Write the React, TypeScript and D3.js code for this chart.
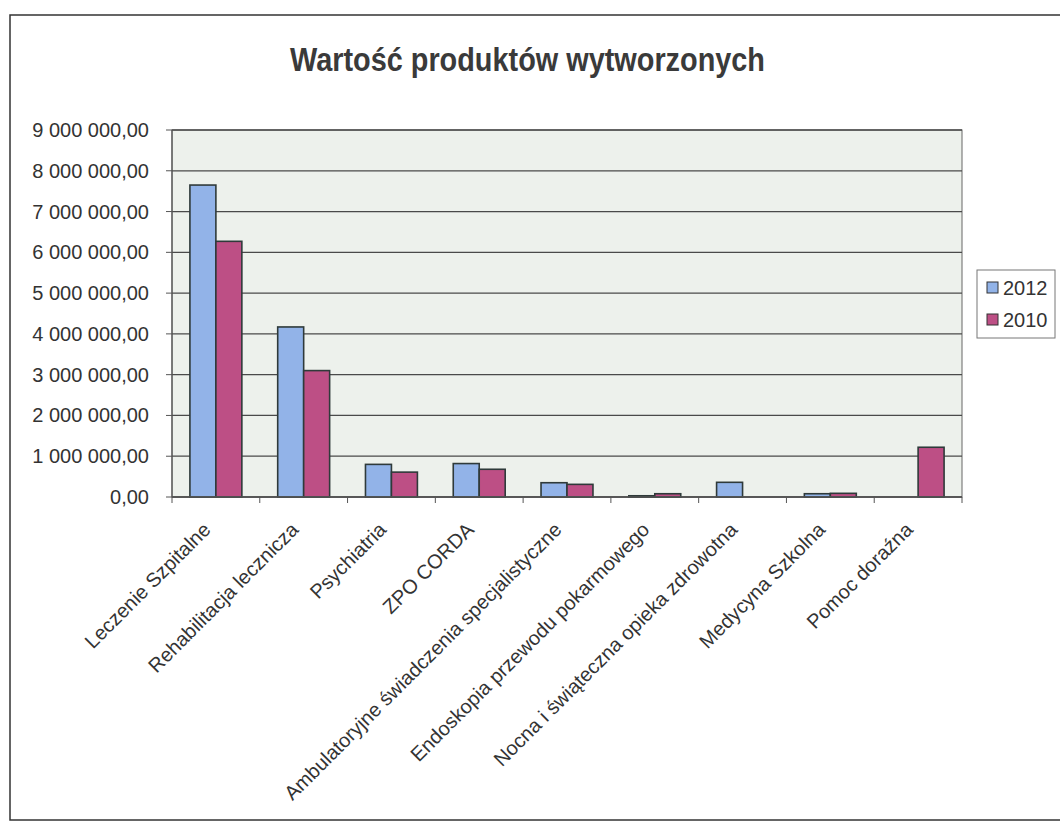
import React from "react";
import * as d3 from "d3";

const categories = [
  "Leczenie Szpitalne",
  "Rehabilitacja lecznicza",
  "Psychiatria",
  "ZPO CORDA",
  "Ambulatoryjne świadczenia specjalistyczne",
  "Endoskopia przewodu pokarmowego",
  "Nocna i świąteczna opieka zdrowotna",
  "Medycyna Szkolna",
  "Pomoc doraźna",
];
const seriesNames = ["2012", "2010"];
const values2012 = [7650000, 4170000, 800000, 820000, 350000, 30000, 360000, 80000, 0];
const values2010 = [6270000, 3100000, 610000, 680000, 310000, 80000, 0, 90000, 1220000];
const yTicks = [0, 1000000, 2000000, 3000000, 4000000, 5000000, 6000000, 7000000, 8000000, 9000000];
const colors = ["#92b3e8", "#bd4f85"];

const W = 1060;
const H = 830;
const plot = { left: 172, right: 962, top: 130, bottom: 497 };

function fmt(v: number): string {
  const s = Math.round(v).toString().replace(/\B(?=(\d{3})+(?!\d))/g, " ");
  return s + ",00";
}

export default function App() {
  const x0 = d3.scaleBand<string>().domain(categories).range([plot.left, plot.right]).padding(0);
  const x1 = d3
    .scaleBand<string>()
    .domain(seriesNames)
    .range([0, x0.bandwidth()])
    .paddingInner(0)
    .paddingOuter(0.69);
  const y = d3.scaleLinear().domain([0, 9000000]).range([plot.bottom, plot.top]);
  const series = [values2012, values2010];
  const font = "'Liberation Sans', Arial, sans-serif";

  return (
    <svg
      width={W}
      height={H}
      style={{ position: "absolute", left: 0, top: 0, background: "#fff" }}
      fontFamily={font}
    >
      <rect x={0} y={0} width={W} height={H} fill="#ffffff" />
      {/* outer frame */}
      <rect x={10} y={15} width={1070} height={805} fill="none" stroke="#333" strokeWidth={1.5} />
      {/* title */}
      <text
        x={290}
        y={71}
        fontSize={33}
        fontWeight="bold"
        fill="#3a3a3a"
        textLength={475}
        lengthAdjust="spacingAndGlyphs"
      >
        Wartość produktów wytworzonych
      </text>
      {/* plot background */}
      <rect
        x={plot.left}
        y={plot.top}
        width={plot.right - plot.left}
        height={plot.bottom - plot.top}
        fill="#edf1ec"
        stroke="#666"
        strokeWidth={1}
      />
      {/* gridlines */}
      {yTicks.map((t) => (
        <line
          key={"g" + t}
          x1={plot.left}
          x2={plot.right}
          y1={y(t)}
          y2={y(t)}
          stroke="#4a4a4a"
          strokeWidth={1.3}
        />
      ))}
      {/* y ticks and labels */}
      {yTicks.map((t) => (
        <g key={"yt" + t}>
          <line x1={plot.left - 6} x2={plot.left} y1={y(t)} y2={y(t)} stroke="#555" />
          <text
            x={149}
            y={y(t)}
            dy="0.35em"
            textAnchor="end"
            fontSize={20}
            fill="#333"
          >
            {fmt(t)}
          </text>
        </g>
      ))}
      {/* bars */}
      {categories.map((c, i) => (
        <g key={"c" + i} transform={`translate(${x0(c)},0)`}>
          {seriesNames.map((s, j) => {
            const v = series[j][i];
            if (v <= 0) return null;
            return (
              <rect
                key={s}
                x={x1(s)}
                y={y(v)}
                width={x1.bandwidth()}
                height={plot.bottom - y(v)}
                fill={colors[j]}
                stroke="#2f3a3a"
                strokeWidth={1.6}
              />
            );
          })}
        </g>
      ))}
      {/* axes lines */}
      <line x1={plot.left} x2={plot.left} y1={plot.top} y2={plot.bottom} stroke="#555" strokeWidth={1.2} />
      <line x1={plot.left} x2={plot.right} y1={plot.bottom} y2={plot.bottom} stroke="#555" strokeWidth={1.5} />
      {/* x ticks */}
      {categories.concat([""]).map((c, i) => {
        const xx = plot.left + i * x0.step();
        return <line key={"xt" + i} x1={xx} x2={xx} y1={plot.bottom} y2={plot.bottom + 6} stroke="#555" />;
      })}
      {/* x labels */}
      {categories.map((c) => {
        const cx = (x0(c) as number) + x0.bandwidth() / 2;
        const cy = plot.bottom + 29;
        return (
          <text
            key={"xl" + c}
            transform={`translate(${cx - 9},${cy}) rotate(-45)`}
            textAnchor="end"
            dy="0.35em"
            fontSize={20}
            fill="#333"
          >
            {c}
          </text>
        );
      })}
      {/* legend */}
      <rect x={977} y={270} width={78} height={68} fill="#fff" stroke="#777" strokeWidth={1} />
      {seriesNames.map((s, j) => (
        <g key={"lg" + s}>
          <rect x={987} y={282 + j * 32} width={11} height={11} fill={colors[j]} stroke="#333" strokeWidth={1} />
          <text x={1003} y={288 + j * 32} dy="0.36em" fontSize={20} fill="#333">
            {s}
          </text>
        </g>
      ))}
    </svg>
  );
}
